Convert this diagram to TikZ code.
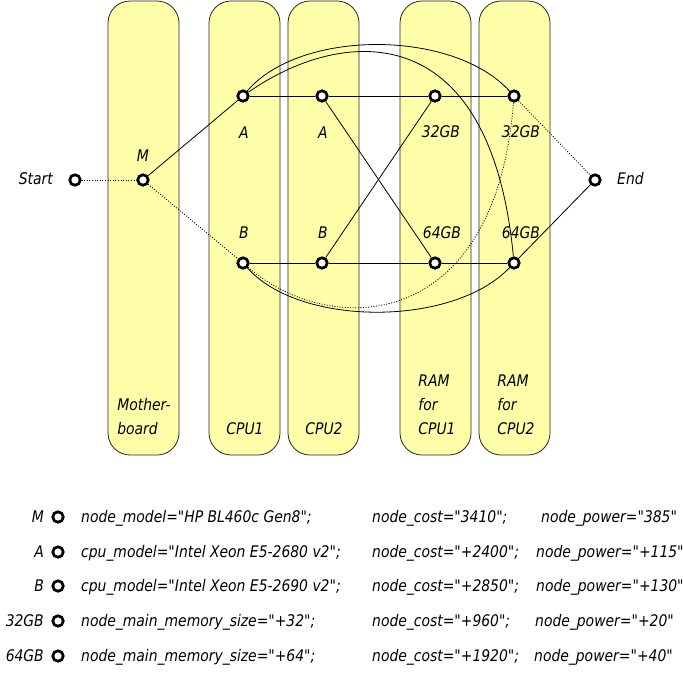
\documentclass[tikz,border=0pt]{standalone}
\usepackage{fontspec}
\newfontfamily\isofont{DejaVu Sans}[FakeStretch=0.87]
\definecolor{slotyellow}{RGB}{255,255,170}
\usetikzlibrary{positioning}

\begin{document}
\begin{tikzpicture}[x=1pt, y=-1pt,
		slot/.style={draw=black!85, line width=0.8pt, fill=slotyellow, rounded corners=22pt},
		vertex/.style={circle, draw, fill=white, line width=2.7pt, minimum size=10.5pt, inner sep=0pt},
		txt/.style={font=\isofont\itshape\fontsize{16}{24}\selectfont, inner sep=0pt},
		conn/.style={line width=0.8pt},
		opt/.style={line width=0.8pt, dash pattern=on 1pt off 1.6pt}]
	\useasboundingbox (0,0) rectangle (683,673);
	% Steckplaetze
	\draw[slot] (108,1) rectangle (179,455);
	\draw[slot] (209,1) rectangle (280,455);
	\draw[slot] (288,1) rectangle (359,455);
	\draw[slot] (400,1) rectangle (471,455);
	\draw[slot] (479,1) rectangle (550,455);
	\node[txt, align=left, anchor=south] (mblab) at (144,435) {Mother-\\board};
	\node[txt, anchor=south] (cpu1lab) at (245,435) {CPU1};
	\node[txt, anchor=south] (cpu2lab) at (324,435) {CPU2};
	\node[txt, align=left, anchor=south] (ram1lab) at (437,435) {RAM\\for\\CPU1};
	\node[txt, align=left, anchor=south] (ram2lab) at (516,435) {RAM\\for\\CPU2};
	% Knoten
	\node[vertex] (start) at (75,180) {};
	\node[vertex] (m) at (143,180) {};
	\node[vertex] (cpua1) at (243,96) {};
	\node[vertex] (cpua2) at (322,96) {};
	\node[vertex] (mem32a) at (435,96) {};
	\node[vertex] (mem32b) at (514,96) {};
	\node[vertex] (cpub1) at (243,263) {};
	\node[vertex] (cpub2) at (322,263) {};
	\node[vertex] (mem64a) at (435,263) {};
	\node[vertex] (mem64b) at (514,263) {};
	\node[vertex] (end) at (595,180) {};
	% Beschriftung
	\node[txt, anchor=east] (startlab) at (53,179) {Start};
	\node[txt, anchor=west] (endlab) at (617,179) {End};
	\node[txt, anchor=base] (mlab) at (143,161) {M};
	\node[txt, anchor=base] (a1lab) at (244,138) {A};
	\node[txt, anchor=base] (a2lab) at (323,138) {A};
	\node[txt, anchor=base] (b1lab) at (244,238) {B};
	\node[txt, anchor=base] (b2lab) at (323,238) {B};
	\node[txt, anchor=base] (m32alab) at (441,137) {32GB};
	\node[txt, anchor=base] (m32blab) at (521,137) {32GB};
	\node[txt, anchor=base] (m64alab) at (442,238) {64GB};
	\node[txt, anchor=base] (m64blab) at (521,238) {64GB};
	% Kanten
	\draw[opt] (start) -- (m);
	\draw[conn] (m) -- (cpua1);
	\draw[opt] (m) -- (cpub1);
	\draw[conn] (cpua1) -- (cpua2) -- (mem32a) -- (mem32b);
	\draw[conn] (cpub1) -- (cpub2) -- (mem64a) -- (mem64b);
	\draw[conn] (cpua2) -- (mem64a);
	\draw[conn] (cpub2) -- (mem32a);
	\draw[conn] (cpua1) .. controls (300,29) and (453,29) .. (mem32b);
	\draw[conn] (cpua1) .. controls (340,28) and (490,12) .. (mem64b);
	\draw[conn] (cpub1) .. controls (300,327) and (453,327) .. (mem64b);
	\draw[opt] (cpub1) .. controls (330,338) and (495,335) .. (mem32b);
	\draw[opt] (mem32b) -- (end);
	\draw[conn] (mem64b) -- (end);
	% Legende
	\foreach \y/\k/\a/\b/\c/\cx [count=\i] in {
		517/M/{node\_model="HP BL460c Gen8";}/{node\_cost="3410";}/{node\_power="385"}/541,
		552/A/{cpu\_model="Intel Xeon E5-2680 v2";}/{node\_cost="+2400";}/{node\_power="+115"}/536,
		586/B/{cpu\_model="Intel Xeon E5-2690 v2";}/{node\_cost="+2850";}/{node\_power="+130"}/536,
		621/32GB/{node\_main\_memory\_size="+32";}/{node\_cost="+960";}/{node\_power="+20"}/535,
		656/64GB/{node\_main\_memory\_size="+64";}/{node\_cost="+1920";}/{node\_power="+40"}/534}{
		\node[vertex] (key\i) at (58,\y) {};
		\node[txt, anchor=base east] (keylab\i) at (44,\y+5) {\k};
		\node[txt, anchor=base west] (keya\i) at (81,\y+5) {\a};
		\node[txt, anchor=base west] (keyb\i) at (372,\y+5) {\b};
		\node[txt, anchor=base west] (keyc\i) at (\cx,\y+5) {\c};
	}
\end{tikzpicture}
\end{document}
